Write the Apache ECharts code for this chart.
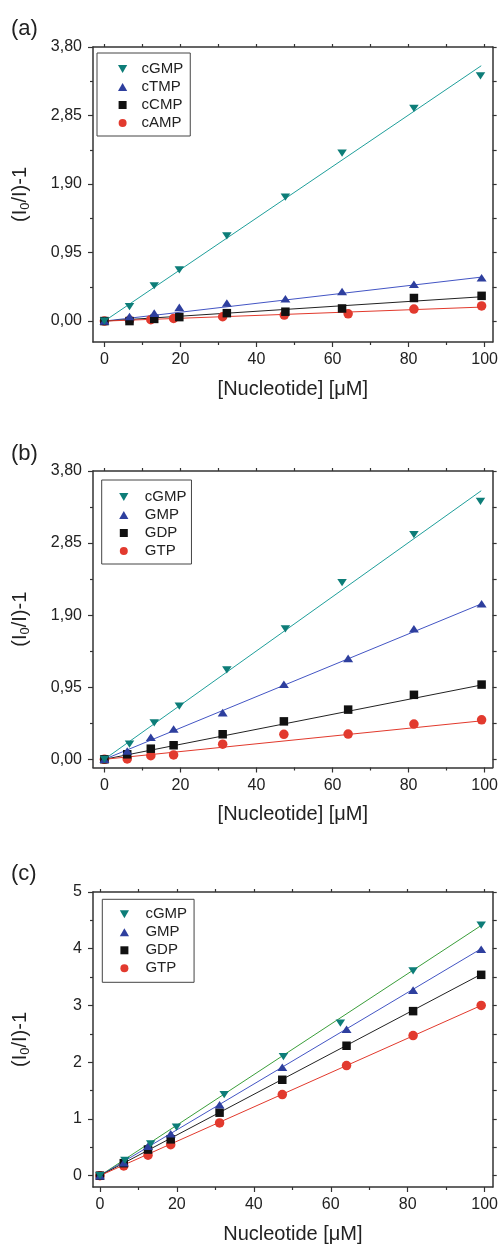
<!DOCTYPE html>
<html>
<head>
<meta charset="utf-8">
<script src="https://cdn.jsdelivr.net/npm/echarts@6/dist/echarts.min.js"></script>
<style>html,body{margin:0;padding:0;background:#fff}#c{width:501px;height:1245px}</style>
</head>
<body>
<div id="c"></div>
<script>
// ---------- Data ----------
const panelLetters = ['(a)', '(b)', '(c)'];
const xTickLabels = [0, 20, 40, 60, 80, 100];
const xMinorTicks = [10, 30, 50, 70, 90];
const xAllTicks = [0, 10, 20, 30, 40, 50, 60, 70, 80, 90, 100];
const yTicksAB = [0, 0.95, 1.9, 2.85, 3.8];
const yMinorAB = [0.475, 1.425, 2.375, 3.325];
const yAllAB = [0, 0.475, 0.95, 1.425, 1.9, 2.375, 2.85, 3.325, 3.8];
const yTicksC = [0, 1, 2, 3, 4, 5];
const yMinorC = [0.5, 1.5, 2.5, 3.5, 4.5];
const yAllC = [0, 0.5, 1, 1.5, 2, 2.5, 3, 3.5, 4, 4.5, 5];

// Panel (a)
const namesA = ['cGMP', 'cTMP', 'cCMP', 'cAMP'];
const xA_cGMP = [0, 6.6, 13.1, 19.7, 32.2, 47.6, 62.5, 81.4, 98.9];
const xA_other = [0, 6.6, 13.1, 19.7, 32.2, 47.6, 62.5, 81.4, 99.2];
const xA_cAMP = [0, 6.6, 12.2, 18.2, 31.1, 47.3, 64.1, 81.4, 99.2];
const yA_cGMP = [0, 0.20, 0.49, 0.71, 1.18, 1.72, 2.33, 2.95, 3.40];
const yA_cTMP = [0, 0.064, 0.11, 0.19, 0.25, 0.31, 0.41, 0.51, 0.60];
const yA_cCMP = [0, 0.0, 0.03, 0.055, 0.11, 0.13, 0.175, 0.32, 0.35];
const yA_cAMP = [0, 0.01, 0.02, 0.036, 0.06, 0.083, 0.10, 0.166, 0.21];
const fitEndA = [[99.1, 3.54], [99.2, 0.61], [99.2, 0.337], [99.2, 0.194]];

// Panel (b)
const namesB = ['cGMP', 'GMP', 'GDP', 'GTP'];
const xB_cGMP = [0, 6.6, 13.1, 19.7, 32.2, 47.6, 62.5, 81.4, 98.9];
const xB_other = [0, 6.0, 12.2, 18.2, 31.1, 47.2, 64.1, 81.4, 99.2];
const yB_cGMP = [0, 0.20, 0.48, 0.70, 1.18, 1.72, 2.33, 2.96, 3.40];
const yB_GMP = [0, 0.11, 0.29, 0.40, 0.615, 0.99, 1.33, 1.72, 2.05];
const yB_GDP = [0, 0.066, 0.14, 0.185, 0.33, 0.50, 0.655, 0.85, 0.985];
const yB_GTP = [0, 0.005, 0.048, 0.057, 0.20, 0.33, 0.333, 0.465, 0.52];
const fitEndB = [[99.1, 3.54], [99.2, 2.05], [99.2, 0.98], [99.2, 0.507]];

// Panel (c)
const namesC = ['cGMP', 'GMP', 'GDP', 'GTP'];
const xC_cGMP = [0, 6.5, 13.2, 19.9, 32.3, 47.7, 62.5, 81.4, 99.1];
const xC_other = [0, 6.2, 12.5, 18.4, 31.1, 47.4, 64.1, 81.4, 99.1];
const yC_cGMP = [0, 0.27, 0.56, 0.855, 1.43, 2.10, 2.69, 3.61, 4.415];
const yC_GMP = [0, 0.23, 0.52, 0.74, 1.25, 1.91, 2.58, 3.27, 3.99];
const yC_GDP = [0, 0.22, 0.46, 0.64, 1.11, 1.69, 2.29, 2.90, 3.54];
const yC_GTP = [0, 0.17, 0.36, 0.545, 0.93, 1.43, 1.94, 2.47, 3.00];
const fitEndC = [[99.1, 4.41], [99.1, 4.0], [99.1, 3.55], [99.1, 3.0]];

// ---------- Styling ----------
const FONT = '"Liberation Sans", Arial, Helvetica, sans-serif';
const AX = '#333';
const markerColors = ['#0d7d78', '#2e3f9e', '#111111', '#e23a2e'];
const lineColorsAB = ['#1f9f9b', '#4355c4', '#222222', '#e2392c'];
const lineColorsC = ['#3a9e3a', '#4355c4', '#222222', '#e2392c'];
const invTri = 'path://M0,0L10,0L5,8.7Z';
const upTri = 'path://M5,0L10,8.7L0,8.7Z';
const square = 'path://M0,0L10,0L10,10L0,10Z';
const symbols = [invTri, upTri, square, 'circle'];
const sizes = [[9.5, 8.3], [10, 8.7], [8.5, 8.5], [9.5, 9.5]];

const grids = [
  {left: 93, top: 47, width: 400, height: 295},
  {left: 93, top: 471, width: 400, height: 296.5},
  {left: 93, top: 892, width: 400, height: 296}
];
const panels = [
  {xMin: -3, xMax: 102.1, yMin: -0.29, yMax: 3.8, yMaj: yTicksAB, yMin2: yMinorAB, yAll: yAllAB,
   fmt: v => v.toFixed(2).replace('.', ','), xName: '[Nucleotide] [\u03bcM]'},
  {xMin: -3, xMax: 102.1, yMin: -0.108, yMax: 3.8, yMaj: yTicksAB, yMin2: yMinorAB, yAll: yAllAB,
   fmt: v => v.toFixed(2).replace('.', ','), xName: '[Nucleotide] [\u03bcM]'},
  {xMin: -1.8, xMax: 102.1, yMin: -0.2, yMax: 5, yMaj: yTicksC, yMin2: yMinorC, yAll: yAllC,
   fmt: v => String(Math.round(v)), xName: 'Nucleotide [\u03bcM]'}
];

const xAxes = [], yAxes = [], mainIdx = [];
panels.forEach((p, gi) => {
  const lineOn = {show: true, onZero: false, lineStyle: {color: AX, width: 1.5}};
  const tickStyle = {color: AX, width: 1.2};
  const xb = {type: 'value', gridIndex: gi, min: p.xMin, max: p.xMax, splitLine: {show: false}};
  const yb = {type: 'value', gridIndex: gi, min: p.yMin, max: p.yMax, splitLine: {show: false}};
  const xi = xAxes.length, yi = yAxes.length;
  mainIdx.push([xi, yi]);
  xAxes.push(Object.assign({}, xb, {
    position: 'bottom', axisLine: lineOn,
    axisTick: {show: true, length: 5, customValues: xTickLabels, lineStyle: tickStyle},
    axisLabel: {show: true, customValues: xTickLabels, fontSize: 16, color: '#222', fontFamily: FONT, margin: 10},
    name: p.xName, nameLocation: 'middle', nameGap: 37,
    nameTextStyle: {fontSize: 20, color: '#222', fontFamily: FONT}
  }));
  xAxes.push(Object.assign({}, xb, {
    position: 'bottom', axisLine: {show: false, onZero: false},
    axisTick: {show: true, length: 3, customValues: xMinorTicks, lineStyle: tickStyle},
    axisLabel: {show: false}
  }));
  xAxes.push(Object.assign({}, xb, {
    position: 'top', axisLine: lineOn,
    axisTick: {show: true, length: 3, customValues: xAllTicks, lineStyle: tickStyle},
    axisLabel: {show: false}
  }));
  yAxes.push(Object.assign({}, yb, {
    position: 'left', axisLine: lineOn,
    axisTick: {show: true, length: 5, customValues: p.yMaj, lineStyle: tickStyle},
    axisLabel: {show: true, customValues: p.yMaj, fontSize: 16, color: '#222', fontFamily: FONT, margin: 11,
      formatter: p.fmt},
    name: '{n|(I}{s|0}{n|/I)-1}', nameLocation: 'middle', nameGap: 61,
    nameTextStyle: {fontSize: 20, color: '#222', fontFamily: FONT,
      rich: {n: {fontSize: 20, fontFamily: FONT, color: '#222', lineHeight: 24},
             s: {fontSize: 13, fontFamily: FONT, color: '#222', lineHeight: 24, verticalAlign: 'bottom'}}}
  }));
  yAxes.push(Object.assign({}, yb, {
    position: 'left', axisLine: {show: false, onZero: false},
    axisTick: {show: true, length: 3, customValues: p.yMin2, lineStyle: tickStyle},
    axisLabel: {show: false}
  }));
  yAxes.push(Object.assign({}, yb, {
    position: 'right', axisLine: lineOn,
    axisTick: {show: true, length: 4, customValues: p.yAll, lineStyle: tickStyle},
    axisLabel: {show: false}
  }));
});

function pairs(xs, ys) { return xs.map((x, i) => [x, ys[i]]); }

const series = [];
function addPanelSeries(gi, names, xsList, ysList, fitEnds, lineColors) {
  const [xi, yi] = mainIdx[gi];
  for (let k = 0; k < 4; k++) {
    series.push({
      type: 'line', name: names[k] + ' fit ' + gi, xAxisIndex: xi, yAxisIndex: yi,
      data: [[0, 0], fitEnds[k]], symbol: 'none', silent: true, z: 2,
      lineStyle: {color: lineColors[k], width: 1}
    });
  }
  for (let k = 3; k >= 0; k--) {
    series.push({
      type: 'scatter', name: names[k], xAxisIndex: xi, yAxisIndex: yi,
      data: pairs(xsList[k], ysList[k]), symbol: symbols[k], symbolSize: sizes[k],
      symbolKeepAspect: true, z: 3 + (3 - k),
      itemStyle: {color: markerColors[k], opacity: 1}
    });
  }
}
addPanelSeries(0, namesA, [xA_cGMP, xA_other, xA_other, xA_cAMP], [yA_cGMP, yA_cTMP, yA_cCMP, yA_cAMP], fitEndA, lineColorsAB);
addPanelSeries(1, namesB, [xB_cGMP, xB_other, xB_other, xB_other], [yB_cGMP, yB_GMP, yB_GDP, yB_GTP], fitEndB, lineColorsAB);
addPanelSeries(2, namesC, [xC_cGMP, xC_other, xC_other, xC_other], [yC_cGMP, yC_GMP, yC_GDP, yC_GTP], fitEndC, lineColorsC);

function legendFor(names, left, top, padding, itemWidth) {
  return {
    data: names, orient: 'vertical', left: left, top: top, padding: padding,
    itemWidth: itemWidth, itemHeight: 8, itemGap: 0, selectedMode: false,
    symbolKeepAspect: true,
    borderColor: '#444', borderWidth: 1, backgroundColor: '#fff',
    textStyle: {fontSize: 15, color: '#222', fontFamily: FONT, lineHeight: 18}
  };
}

const option = {
  animation: false,
  backgroundColor: '#fff',
  title: [
    {text: panelLetters[0], left: 6, top: 13, textStyle: {fontSize: 22, fontWeight: 'normal', color: '#222', fontFamily: FONT}},
    {text: panelLetters[1], left: 6, top: 437.5, textStyle: {fontSize: 22, fontWeight: 'normal', color: '#222', fontFamily: FONT}},
    {text: panelLetters[2], left: 6, top: 857.5, textStyle: {fontSize: 22, fontWeight: 'normal', color: '#222', fontFamily: FONT}}
  ],
  legend: [
    legendFor(namesA, 97, 53, [7, 7, 4, 21], 28),
    legendFor(namesB, 101.7, 480, [8, 5, 4, 17.5], 32),
    legendFor(namesC, 102.3, 899.3, [6, 7, 5, 17.5], 32)
  ],
  grid: grids,
  xAxis: xAxes,
  yAxis: yAxes,
  series: series
};

const chart = echarts.init(document.getElementById('c'), null, {renderer: 'canvas'});
chart.setOption(option);
</script>
</body>
</html>
